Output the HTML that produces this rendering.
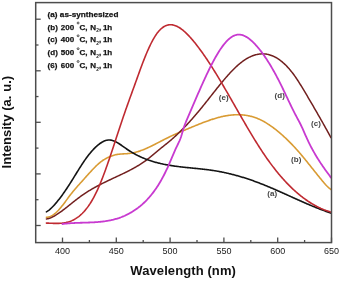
<!DOCTYPE html>
<html><head><meta charset="utf-8"><style>
html,body{margin:0;padding:0;background:#fff;width:342px;height:283px;overflow:hidden}
svg{display:block;font-family:"Liberation Sans",sans-serif;-webkit-font-smoothing:antialiased;will-change:transform}
</style></head><body><svg width="342" height="283" viewBox="0 0 342 283" font-family="Liberation Sans, sans-serif"><g><rect width="342" height="283" fill="#fff"/><path d="M46.40,217.30 L47.15,217.25 L47.90,217.14 L48.65,216.98 L49.40,216.75 L50.15,216.48 L50.90,216.15 L51.65,215.77 L52.40,215.33 L53.15,214.85 L53.90,214.33 L54.65,213.75 L55.40,213.14 L56.15,212.48 L56.90,211.78 L57.65,211.04 L58.40,210.26 L59.15,209.44 L59.90,208.59 L60.65,207.71 L61.40,206.80 L62.15,205.86 L62.90,204.90 L63.65,203.92 L64.40,202.92 L65.15,201.92 L65.90,200.90 L66.65,199.88 L67.40,198.86 L68.15,197.84 L68.90,196.83 L69.65,195.83 L70.40,194.85 L71.15,193.88 L71.90,192.93 L72.65,192.00 L73.40,191.08 L74.15,190.18 L74.90,189.29 L75.65,188.42 L76.40,187.55 L77.15,186.69 L77.90,185.84 L78.65,185.00 L79.40,184.16 L80.15,183.33 L80.90,182.50 L81.65,181.67 L82.40,180.84 L83.15,180.00 L83.90,179.17 L84.65,178.33 L85.40,177.49 L86.15,176.65 L86.90,175.82 L87.65,174.98 L88.40,174.15 L89.15,173.32 L89.90,172.49 L90.65,171.67 L91.40,170.86 L92.15,170.05 L92.90,169.26 L93.65,168.47 L94.40,167.70 L95.15,166.94 L95.90,166.19 L96.65,165.46 L97.40,164.75 L98.15,164.07 L98.90,163.41 L99.65,162.78 L100.40,162.17 L101.15,161.60 L101.90,161.05 L102.65,160.53 L103.40,160.04 L104.15,159.57 L104.90,159.12 L105.65,158.69 L106.40,158.29 L107.15,157.90 L107.90,157.53 L108.65,157.17 L109.40,156.83 L110.15,156.51 L110.90,156.20 L111.65,155.91 L112.40,155.64 L113.15,155.40 L113.90,155.17 L114.65,154.97 L115.40,154.80 L116.15,154.64 L116.90,154.50 L117.65,154.39 L118.40,154.28 L119.15,154.19 L119.90,154.12 L120.65,154.05 L121.40,153.99 L122.15,153.94 L122.90,153.90 L123.65,153.85 L124.40,153.81 L125.15,153.77 L125.90,153.73 L126.65,153.68 L127.40,153.62 L128.15,153.56 L128.90,153.49 L129.65,153.41 L130.40,153.32 L131.15,153.21 L131.90,153.08 L132.65,152.94 L133.40,152.79 L134.15,152.63 L134.90,152.45 L135.65,152.26 L136.40,152.06 L137.15,151.84 L137.90,151.62 L138.65,151.38 L139.40,151.14 L140.15,150.88 L140.90,150.61 L141.65,150.34 L142.40,150.05 L143.15,149.76 L143.90,149.45 L144.65,149.14 L145.40,148.83 L146.15,148.50 L146.90,148.17 L147.65,147.83 L148.40,147.49 L149.15,147.14 L149.90,146.78 L150.65,146.42 L151.40,146.06 L152.15,145.69 L152.90,145.32 L153.65,144.94 L154.40,144.56 L155.15,144.18 L155.90,143.80 L156.65,143.41 L157.40,143.03 L158.15,142.64 L158.90,142.25 L159.65,141.86 L160.40,141.47 L161.15,141.08 L161.90,140.70 L162.65,140.31 L163.40,139.92 L164.15,139.54 L164.90,139.16 L165.65,138.78 L166.40,138.41 L167.15,138.04 L167.90,137.67 L168.65,137.30 L169.40,136.94 L170.15,136.58 L170.90,136.23 L171.65,135.88 L172.40,135.53 L173.15,135.18 L173.90,134.83 L174.65,134.49 L175.40,134.15 L176.15,133.82 L176.90,133.48 L177.65,133.15 L178.40,132.82 L179.15,132.49 L179.90,132.16 L180.65,131.83 L181.40,131.51 L182.15,131.19 L182.90,130.87 L183.65,130.55 L184.40,130.23 L185.15,129.91 L185.90,129.60 L186.65,129.28 L187.40,128.97 L188.15,128.66 L188.90,128.35 L189.65,128.04 L190.40,127.73 L191.15,127.42 L191.90,127.11 L192.65,126.80 L193.40,126.49 L194.15,126.18 L194.90,125.87 L195.65,125.57 L196.40,125.26 L197.15,124.96 L197.90,124.65 L198.65,124.35 L199.40,124.05 L200.15,123.75 L200.90,123.46 L201.65,123.16 L202.40,122.87 L203.15,122.58 L203.90,122.30 L204.65,122.01 L205.40,121.73 L206.15,121.45 L206.90,121.18 L207.65,120.91 L208.40,120.64 L209.15,120.38 L209.90,120.12 L210.65,119.86 L211.40,119.61 L212.15,119.37 L212.90,119.12 L213.65,118.89 L214.40,118.65 L215.15,118.43 L215.90,118.20 L216.65,117.99 L217.40,117.78 L218.15,117.57 L218.90,117.37 L219.65,117.18 L220.40,116.99 L221.15,116.81 L221.90,116.63 L222.65,116.47 L223.40,116.31 L224.15,116.15 L224.90,116.00 L225.65,115.86 L226.40,115.73 L227.15,115.61 L227.90,115.49 L228.65,115.38 L229.40,115.28 L230.15,115.18 L230.90,115.10 L231.65,115.02 L232.40,114.95 L233.15,114.89 L233.90,114.84 L234.65,114.80 L235.40,114.77 L236.15,114.74 L236.90,114.73 L237.65,114.72 L238.40,114.73 L239.15,114.74 L239.90,114.76 L240.65,114.80 L241.40,114.84 L242.15,114.89 L242.90,114.96 L243.65,115.03 L244.40,115.12 L245.15,115.22 L245.90,115.33 L246.65,115.44 L247.40,115.57 L248.15,115.72 L248.90,115.87 L249.65,116.03 L250.40,116.21 L251.15,116.40 L251.90,116.60 L252.65,116.81 L253.40,117.04 L254.15,117.28 L254.90,117.53 L255.65,117.79 L256.40,118.07 L257.15,118.36 L257.90,118.66 L258.65,118.97 L259.40,119.30 L260.15,119.65 L260.90,120.00 L261.65,120.37 L262.40,120.76 L263.15,121.16 L263.90,121.57 L264.65,121.99 L265.40,122.43 L266.15,122.88 L266.90,123.34 L267.65,123.81 L268.40,124.30 L269.15,124.79 L269.90,125.30 L270.65,125.82 L271.40,126.35 L272.15,126.89 L272.90,127.44 L273.65,128.00 L274.40,128.57 L275.15,129.15 L275.90,129.73 L276.65,130.33 L277.40,130.94 L278.15,131.55 L278.90,132.18 L279.65,132.81 L280.40,133.45 L281.15,134.10 L281.90,134.76 L282.65,135.43 L283.40,136.10 L284.15,136.79 L284.90,137.48 L285.65,138.19 L286.40,138.90 L287.15,139.62 L287.90,140.34 L288.65,141.08 L289.40,141.83 L290.15,142.58 L290.90,143.35 L291.65,144.12 L292.40,144.90 L293.15,145.69 L293.90,146.49 L294.65,147.30 L295.40,148.12 L296.15,148.94 L296.90,149.78 L297.65,150.62 L298.40,151.48 L299.15,152.34 L299.90,153.21 L300.65,154.09 L301.40,154.97 L302.15,155.86 L302.90,156.76 L303.65,157.67 L304.40,158.58 L305.15,159.49 L305.90,160.41 L306.65,161.34 L307.40,162.26 L308.15,163.20 L308.90,164.13 L309.65,165.07 L310.40,166.01 L311.15,166.95 L311.90,167.89 L312.65,168.83 L313.40,169.77 L314.15,170.71 L314.90,171.65 L315.65,172.59 L316.40,173.53 L317.15,174.47 L317.90,175.40 L318.65,176.33 L319.40,177.26 L320.15,178.18 L320.90,179.10 L321.65,180.02 L322.40,180.93 L323.15,181.83 L323.90,182.71 L324.65,183.57 L325.40,184.42 L326.15,185.23 L326.90,186.01 L327.65,186.75 L328.40,187.46 L329.15,188.11 L329.90,188.72 L330.65,189.27 L331.00,189.51" fill="none" stroke="#d99b33" stroke-width="1.6" stroke-linejoin="round" stroke-linecap="round"/><path d="M46.40,218.91 L47.15,218.80 L47.90,218.65 L48.65,218.46 L49.40,218.24 L50.15,217.99 L50.90,217.70 L51.65,217.39 L52.40,217.04 L53.15,216.67 L53.90,216.28 L54.65,215.86 L55.40,215.42 L56.15,214.96 L56.90,214.48 L57.65,213.99 L58.40,213.48 L59.15,212.96 L59.90,212.43 L60.65,211.89 L61.40,211.34 L62.15,210.78 L62.90,210.22 L63.65,209.65 L64.40,209.07 L65.15,208.49 L65.90,207.90 L66.65,207.31 L67.40,206.72 L68.15,206.12 L68.90,205.52 L69.65,204.92 L70.40,204.32 L71.15,203.72 L71.90,203.12 L72.65,202.52 L73.40,201.93 L74.15,201.33 L74.90,200.74 L75.65,200.15 L76.40,199.57 L77.15,198.99 L77.90,198.42 L78.65,197.85 L79.40,197.29 L80.15,196.74 L80.90,196.19 L81.65,195.66 L82.40,195.13 L83.15,194.61 L83.90,194.10 L84.65,193.59 L85.40,193.10 L86.15,192.61 L86.90,192.13 L87.65,191.65 L88.40,191.18 L89.15,190.72 L89.90,190.27 L90.65,189.82 L91.40,189.37 L92.15,188.94 L92.90,188.50 L93.65,188.08 L94.40,187.66 L95.15,187.24 L95.90,186.83 L96.65,186.42 L97.40,186.02 L98.15,185.63 L98.90,185.23 L99.65,184.84 L100.40,184.46 L101.15,184.07 L101.90,183.70 L102.65,183.32 L103.40,182.95 L104.15,182.58 L104.90,182.21 L105.65,181.85 L106.40,181.48 L107.15,181.12 L107.90,180.77 L108.65,180.41 L109.40,180.05 L110.15,179.70 L110.90,179.35 L111.65,178.99 L112.40,178.64 L113.15,178.29 L113.90,177.94 L114.65,177.59 L115.40,177.24 L116.15,176.89 L116.90,176.54 L117.65,176.19 L118.40,175.84 L119.15,175.48 L119.90,175.13 L120.65,174.77 L121.40,174.41 L122.15,174.06 L122.90,173.69 L123.65,173.33 L124.40,172.97 L125.15,172.60 L125.90,172.23 L126.65,171.85 L127.40,171.48 L128.15,171.10 L128.90,170.72 L129.65,170.33 L130.40,169.94 L131.15,169.54 L131.90,169.15 L132.65,168.74 L133.40,168.33 L134.15,167.92 L134.90,167.50 L135.65,167.08 L136.40,166.65 L137.15,166.21 L137.90,165.77 L138.65,165.31 L139.40,164.85 L140.15,164.39 L140.90,163.91 L141.65,163.43 L142.40,162.93 L143.15,162.43 L143.90,161.91 L144.65,161.39 L145.40,160.86 L146.15,160.31 L146.90,159.75 L147.65,159.18 L148.40,158.60 L149.15,158.01 L149.90,157.40 L150.65,156.79 L151.40,156.16 L152.15,155.53 L152.90,154.90 L153.65,154.26 L154.40,153.62 L155.15,152.98 L155.90,152.34 L156.65,151.70 L157.40,151.08 L158.15,150.45 L158.90,149.84 L159.65,149.23 L160.40,148.62 L161.15,148.02 L161.90,147.42 L162.65,146.82 L163.40,146.22 L164.15,145.63 L164.90,145.03 L165.65,144.43 L166.40,143.83 L167.15,143.22 L167.90,142.61 L168.65,142.00 L169.40,141.37 L170.15,140.74 L170.90,140.10 L171.65,139.46 L172.40,138.80 L173.15,138.14 L173.90,137.47 L174.65,136.79 L175.40,136.11 L176.15,135.41 L176.90,134.71 L177.65,134.00 L178.40,133.28 L179.15,132.56 L179.90,131.83 L180.65,131.09 L181.40,130.34 L182.15,129.59 L182.90,128.83 L183.65,128.06 L184.40,127.29 L185.15,126.51 L185.90,125.72 L186.65,124.92 L187.40,124.12 L188.15,123.31 L188.90,122.50 L189.65,121.67 L190.40,120.84 L191.15,120.01 L191.90,119.17 L192.65,118.32 L193.40,117.46 L194.15,116.60 L194.90,115.73 L195.65,114.86 L196.40,113.98 L197.15,113.10 L197.90,112.20 L198.65,111.31 L199.40,110.40 L200.15,109.49 L200.90,108.58 L201.65,107.66 L202.40,106.73 L203.15,105.80 L203.90,104.87 L204.65,103.93 L205.40,102.99 L206.15,102.05 L206.90,101.10 L207.65,100.16 L208.40,99.21 L209.15,98.26 L209.90,97.31 L210.65,96.35 L211.40,95.40 L212.15,94.45 L212.90,93.50 L213.65,92.55 L214.40,91.60 L215.15,90.66 L215.90,89.72 L216.65,88.78 L217.40,87.84 L218.15,86.91 L218.90,85.98 L219.65,85.05 L220.40,84.14 L221.15,83.22 L221.90,82.31 L222.65,81.41 L223.40,80.52 L224.15,79.63 L224.90,78.75 L225.65,77.87 L226.40,77.01 L227.15,76.16 L227.90,75.31 L228.65,74.48 L229.40,73.65 L230.15,72.84 L230.90,72.04 L231.65,71.25 L232.40,70.47 L233.15,69.71 L233.90,68.95 L234.65,68.22 L235.40,67.50 L236.15,66.79 L236.90,66.10 L237.65,65.42 L238.40,64.76 L239.15,64.12 L239.90,63.50 L240.65,62.89 L241.40,62.30 L242.15,61.73 L242.90,61.18 L243.65,60.65 L244.40,60.14 L245.15,59.64 L245.90,59.17 L246.65,58.71 L247.40,58.27 L248.15,57.86 L248.90,57.46 L249.65,57.08 L250.40,56.73 L251.15,56.39 L251.90,56.07 L252.65,55.78 L253.40,55.50 L254.15,55.25 L254.90,55.01 L255.65,54.80 L256.40,54.61 L257.15,54.44 L257.90,54.29 L258.65,54.16 L259.40,54.05 L260.15,53.97 L260.90,53.91 L261.65,53.87 L262.40,53.85 L263.15,53.86 L263.90,53.89 L264.65,53.94 L265.40,54.01 L266.15,54.11 L266.90,54.23 L267.65,54.37 L268.40,54.54 L269.15,54.73 L269.90,54.94 L270.65,55.18 L271.40,55.44 L272.15,55.73 L272.90,56.04 L273.65,56.37 L274.40,56.73 L275.15,57.11 L275.90,57.52 L276.65,57.95 L277.40,58.41 L278.15,58.89 L278.90,59.40 L279.65,59.93 L280.40,60.49 L281.15,61.07 L281.90,61.67 L282.65,62.31 L283.40,62.96 L284.15,63.64 L284.90,64.35 L285.65,65.08 L286.40,65.84 L287.15,66.62 L287.90,67.43 L288.65,68.27 L289.40,69.12 L290.15,70.01 L290.90,70.92 L291.65,71.86 L292.40,72.82 L293.15,73.81 L293.90,74.82 L294.65,75.86 L295.40,76.93 L296.15,78.02 L296.90,79.13 L297.65,80.26 L298.40,81.42 L299.15,82.59 L299.90,83.78 L300.65,84.98 L301.40,86.20 L302.15,87.42 L302.90,88.66 L303.65,89.91 L304.40,91.17 L305.15,92.43 L305.90,93.70 L306.65,94.97 L307.40,96.24 L308.15,97.52 L308.90,98.79 L309.65,100.07 L310.40,101.35 L311.15,102.63 L311.90,103.91 L312.65,105.20 L313.40,106.48 L314.15,107.78 L314.90,109.07 L315.65,110.36 L316.40,111.66 L317.15,112.97 L317.90,114.27 L318.65,115.58 L319.40,116.89 L320.15,118.21 L320.90,119.52 L321.65,120.85 L322.40,122.17 L323.15,123.50 L323.90,124.84 L324.65,126.18 L325.40,127.52 L326.15,128.87 L326.90,130.22 L327.65,131.57 L328.40,132.94 L329.15,134.30 L329.90,135.67 L330.65,137.05 L331.00,137.69" fill="none" stroke="#72201f" stroke-width="1.5" stroke-linejoin="round" stroke-linecap="round"/><path d="M46.40,211.91 L47.15,211.44 L47.90,210.93 L48.65,210.37 L49.40,209.77 L50.15,209.14 L50.90,208.47 L51.65,207.76 L52.40,207.02 L53.15,206.25 L53.90,205.45 L54.65,204.62 L55.40,203.76 L56.15,202.88 L56.90,201.98 L57.65,201.06 L58.40,200.12 L59.15,199.16 L59.90,198.18 L60.65,197.19 L61.40,196.18 L62.15,195.16 L62.90,194.12 L63.65,193.06 L64.40,191.99 L65.15,190.91 L65.90,189.81 L66.65,188.69 L67.40,187.56 L68.15,186.41 L68.90,185.26 L69.65,184.09 L70.40,182.91 L71.15,181.72 L71.90,180.52 L72.65,179.32 L73.40,178.11 L74.15,176.90 L74.90,175.68 L75.65,174.46 L76.40,173.25 L77.15,172.03 L77.90,170.82 L78.65,169.62 L79.40,168.43 L80.15,167.24 L80.90,166.07 L81.65,164.91 L82.40,163.76 L83.15,162.63 L83.90,161.51 L84.65,160.42 L85.40,159.35 L86.15,158.30 L86.90,157.27 L87.65,156.27 L88.40,155.29 L89.15,154.34 L89.90,153.41 L90.65,152.51 L91.40,151.63 L92.15,150.78 L92.90,149.96 L93.65,149.16 L94.40,148.38 L95.15,147.64 L95.90,146.92 L96.65,146.22 L97.40,145.56 L98.15,144.92 L98.90,144.32 L99.65,143.75 L100.40,143.21 L101.15,142.71 L101.90,142.25 L102.65,141.82 L103.40,141.44 L104.15,141.10 L104.90,140.80 L105.65,140.54 L106.40,140.34 L107.15,140.18 L107.90,140.06 L108.65,140.00 L109.40,140.00 L110.15,140.04 L110.90,140.14 L111.65,140.28 L112.40,140.47 L113.15,140.70 L113.90,140.98 L114.65,141.29 L115.40,141.63 L116.15,142.01 L116.90,142.41 L117.65,142.84 L118.40,143.30 L119.15,143.77 L119.90,144.26 L120.65,144.77 L121.40,145.28 L122.15,145.81 L122.90,146.34 L123.65,146.88 L124.40,147.41 L125.15,147.94 L125.90,148.47 L126.65,148.99 L127.40,149.50 L128.15,150.00 L128.90,150.49 L129.65,150.97 L130.40,151.43 L131.15,151.89 L131.90,152.34 L132.65,152.78 L133.40,153.21 L134.15,153.63 L134.90,154.04 L135.65,154.45 L136.40,154.84 L137.15,155.23 L137.90,155.60 L138.65,155.97 L139.40,156.33 L140.15,156.68 L140.90,157.02 L141.65,157.36 L142.40,157.69 L143.15,158.01 L143.90,158.32 L144.65,158.62 L145.40,158.92 L146.15,159.21 L146.90,159.49 L147.65,159.77 L148.40,160.03 L149.15,160.30 L149.90,160.55 L150.65,160.80 L151.40,161.04 L152.15,161.28 L152.90,161.51 L153.65,161.73 L154.40,161.95 L155.15,162.16 L155.90,162.37 L156.65,162.57 L157.40,162.77 L158.15,162.96 L158.90,163.15 L159.65,163.33 L160.40,163.50 L161.15,163.67 L161.90,163.84 L162.65,164.00 L163.40,164.16 L164.15,164.32 L164.90,164.46 L165.65,164.61 L166.40,164.75 L167.15,164.89 L167.90,165.02 L168.65,165.16 L169.40,165.28 L170.15,165.41 L170.90,165.53 L171.65,165.65 L172.40,165.76 L173.15,165.87 L173.90,165.98 L174.65,166.09 L175.40,166.19 L176.15,166.29 L176.90,166.39 L177.65,166.49 L178.40,166.58 L179.15,166.68 L179.90,166.77 L180.65,166.85 L181.40,166.94 L182.15,167.03 L182.90,167.11 L183.65,167.19 L184.40,167.27 L185.15,167.35 L185.90,167.43 L186.65,167.51 L187.40,167.59 L188.15,167.66 L188.90,167.74 L189.65,167.81 L190.40,167.89 L191.15,167.96 L191.90,168.04 L192.65,168.11 L193.40,168.19 L194.15,168.26 L194.90,168.33 L195.65,168.41 L196.40,168.48 L197.15,168.56 L197.90,168.63 L198.65,168.71 L199.40,168.79 L200.15,168.87 L200.90,168.95 L201.65,169.03 L202.40,169.11 L203.15,169.19 L203.90,169.28 L204.65,169.37 L205.40,169.45 L206.15,169.54 L206.90,169.64 L207.65,169.73 L208.40,169.83 L209.15,169.93 L209.90,170.03 L210.65,170.13 L211.40,170.24 L212.15,170.35 L212.90,170.46 L213.65,170.57 L214.40,170.69 L215.15,170.81 L215.90,170.93 L216.65,171.06 L217.40,171.19 L218.15,171.32 L218.90,171.46 L219.65,171.60 L220.40,171.74 L221.15,171.88 L221.90,172.03 L222.65,172.18 L223.40,172.34 L224.15,172.50 L224.90,172.66 L225.65,172.82 L226.40,172.99 L227.15,173.16 L227.90,173.33 L228.65,173.50 L229.40,173.68 L230.15,173.86 L230.90,174.05 L231.65,174.23 L232.40,174.42 L233.15,174.62 L233.90,174.81 L234.65,175.01 L235.40,175.21 L236.15,175.42 L236.90,175.62 L237.65,175.83 L238.40,176.05 L239.15,176.26 L239.90,176.48 L240.65,176.70 L241.40,176.92 L242.15,177.15 L242.90,177.38 L243.65,177.61 L244.40,177.85 L245.15,178.08 L245.90,178.32 L246.65,178.57 L247.40,178.81 L248.15,179.06 L248.90,179.31 L249.65,179.56 L250.40,179.82 L251.15,180.08 L251.90,180.34 L252.65,180.60 L253.40,180.87 L254.15,181.14 L254.90,181.41 L255.65,181.68 L256.40,181.96 L257.15,182.24 L257.90,182.52 L258.65,182.80 L259.40,183.09 L260.15,183.38 L260.90,183.67 L261.65,183.96 L262.40,184.26 L263.15,184.56 L263.90,184.86 L264.65,185.16 L265.40,185.46 L266.15,185.77 L266.90,186.08 L267.65,186.39 L268.40,186.70 L269.15,187.02 L269.90,187.33 L270.65,187.65 L271.40,187.97 L272.15,188.29 L272.90,188.61 L273.65,188.94 L274.40,189.26 L275.15,189.59 L275.90,189.92 L276.65,190.24 L277.40,190.57 L278.15,190.91 L278.90,191.24 L279.65,191.57 L280.40,191.90 L281.15,192.24 L281.90,192.57 L282.65,192.91 L283.40,193.25 L284.15,193.58 L284.90,193.92 L285.65,194.26 L286.40,194.60 L287.15,194.94 L287.90,195.28 L288.65,195.61 L289.40,195.95 L290.15,196.29 L290.90,196.63 L291.65,196.97 L292.40,197.31 L293.15,197.65 L293.90,197.99 L294.65,198.33 L295.40,198.66 L296.15,199.00 L296.90,199.34 L297.65,199.67 L298.40,200.01 L299.15,200.35 L299.90,200.68 L300.65,201.01 L301.40,201.34 L302.15,201.68 L302.90,202.01 L303.65,202.34 L304.40,202.66 L305.15,202.99 L305.90,203.32 L306.65,203.64 L307.40,203.96 L308.15,204.29 L308.90,204.61 L309.65,204.92 L310.40,205.24 L311.15,205.56 L311.90,205.87 L312.65,206.18 L313.40,206.49 L314.15,206.80 L314.90,207.11 L315.65,207.41 L316.40,207.71 L317.15,208.01 L317.90,208.31 L318.65,208.60 L319.40,208.89 L320.15,209.18 L320.90,209.47 L321.65,209.76 L322.40,210.04 L323.15,210.32 L323.90,210.59 L324.65,210.87 L325.40,211.14 L326.15,211.41 L326.90,211.67 L327.65,211.93 L328.40,212.19 L329.15,212.45 L329.90,212.70 L330.65,212.95 L331.20,213.13" fill="none" stroke="#141414" stroke-width="1.6" stroke-linejoin="round" stroke-linecap="round"/><path d="M46.40,223.09 L47.15,223.11 L47.90,223.14 L48.65,223.17 L49.40,223.20 L50.15,223.23 L50.90,223.26 L51.65,223.29 L52.40,223.32 L53.15,223.34 L53.90,223.36 L54.65,223.38 L55.40,223.39 L56.15,223.40 L56.90,223.39 L57.65,223.38 L58.40,223.37 L59.15,223.34 L59.90,223.30 L60.65,223.25 L61.40,223.19 L62.15,223.12 L62.90,223.03 L63.65,222.93 L64.40,222.81 L65.15,222.68 L65.90,222.53 L66.65,222.36 L67.40,222.18 L68.15,221.97 L68.90,221.75 L69.65,221.50 L70.40,221.23 L71.15,220.94 L71.90,220.63 L72.65,220.29 L73.40,219.93 L74.15,219.54 L74.90,219.12 L75.65,218.68 L76.40,218.20 L77.15,217.70 L77.90,217.17 L78.65,216.61 L79.40,216.01 L80.15,215.38 L80.90,214.72 L81.65,214.03 L82.40,213.30 L83.15,212.53 L83.90,211.73 L84.65,210.89 L85.40,210.01 L86.15,209.09 L86.90,208.13 L87.65,207.14 L88.40,206.09 L89.15,205.01 L89.90,203.89 L90.65,202.71 L91.40,201.50 L92.15,200.24 L92.90,198.93 L93.65,197.57 L94.40,196.17 L95.15,194.71 L95.90,193.21 L96.65,191.66 L97.40,190.05 L98.15,188.39 L98.90,186.69 L99.65,184.93 L100.40,183.13 L101.15,181.28 L101.90,179.40 L102.65,177.47 L103.40,175.51 L104.15,173.51 L104.90,171.47 L105.65,169.41 L106.40,167.31 L107.15,165.19 L107.90,163.05 L108.65,160.88 L109.40,158.69 L110.15,156.48 L110.90,154.25 L111.65,152.01 L112.40,149.75 L113.15,147.49 L113.90,145.22 L114.65,142.94 L115.40,140.65 L116.15,138.37 L116.90,136.08 L117.65,133.79 L118.40,131.51 L119.15,129.24 L119.90,126.97 L120.65,124.71 L121.40,122.46 L122.15,120.23 L122.90,118.02 L123.65,115.82 L124.40,113.64 L125.15,111.49 L125.90,109.35 L126.65,107.22 L127.40,105.11 L128.15,103.01 L128.90,100.92 L129.65,98.84 L130.40,96.77 L131.15,94.70 L131.90,92.64 L132.65,90.58 L133.40,88.51 L134.15,86.45 L134.90,84.38 L135.65,82.30 L136.40,80.22 L137.15,78.13 L137.90,76.03 L138.65,73.94 L139.40,71.86 L140.15,69.80 L140.90,67.76 L141.65,65.74 L142.40,63.75 L143.15,61.79 L143.90,59.86 L144.65,57.97 L145.40,56.11 L146.15,54.29 L146.90,52.50 L147.65,50.76 L148.40,49.06 L149.15,47.41 L149.90,45.81 L150.65,44.25 L151.40,42.75 L152.15,41.30 L152.90,39.91 L153.65,38.57 L154.40,37.30 L155.15,36.09 L155.90,34.94 L156.65,33.86 L157.40,32.85 L158.15,31.90 L158.90,31.02 L159.65,30.20 L160.40,29.44 L161.15,28.75 L161.90,28.11 L162.65,27.53 L163.40,27.01 L164.15,26.55 L164.90,26.14 L165.65,25.79 L166.40,25.49 L167.15,25.25 L167.90,25.05 L168.65,24.91 L169.40,24.81 L170.15,24.77 L170.90,24.76 L171.65,24.81 L172.40,24.90 L173.15,25.03 L173.90,25.21 L174.65,25.42 L175.40,25.68 L176.15,25.98 L176.90,26.31 L177.65,26.68 L178.40,27.09 L179.15,27.53 L179.90,28.00 L180.65,28.51 L181.40,29.05 L182.15,29.61 L182.90,30.21 L183.65,30.84 L184.40,31.49 L185.15,32.17 L185.90,32.87 L186.65,33.60 L187.40,34.34 L188.15,35.11 L188.90,35.90 L189.65,36.71 L190.40,37.54 L191.15,38.38 L191.90,39.24 L192.65,40.12 L193.40,41.01 L194.15,41.91 L194.90,42.83 L195.65,43.77 L196.40,44.72 L197.15,45.68 L197.90,46.65 L198.65,47.64 L199.40,48.65 L200.15,49.66 L200.90,50.69 L201.65,51.73 L202.40,52.78 L203.15,53.84 L203.90,54.92 L204.65,56.00 L205.40,57.10 L206.15,58.21 L206.90,59.32 L207.65,60.45 L208.40,61.59 L209.15,62.74 L209.90,63.89 L210.65,65.06 L211.40,66.23 L212.15,67.41 L212.90,68.60 L213.65,69.80 L214.40,71.01 L215.15,72.22 L215.90,73.44 L216.65,74.67 L217.40,75.90 L218.15,77.14 L218.90,78.39 L219.65,79.64 L220.40,80.90 L221.15,82.16 L221.90,83.43 L222.65,84.70 L223.40,85.98 L224.15,87.26 L224.90,88.55 L225.65,89.84 L226.40,91.13 L227.15,92.42 L227.90,93.72 L228.65,95.02 L229.40,96.32 L230.15,97.63 L230.90,98.93 L231.65,100.24 L232.40,101.55 L233.15,102.86 L233.90,104.17 L234.65,105.48 L235.40,106.79 L236.15,108.11 L236.90,109.42 L237.65,110.73 L238.40,112.04 L239.15,113.34 L239.90,114.65 L240.65,115.95 L241.40,117.26 L242.15,118.56 L242.90,119.86 L243.65,121.15 L244.40,122.44 L245.15,123.73 L245.90,125.02 L246.65,126.30 L247.40,127.57 L248.15,128.85 L248.90,130.11 L249.65,131.38 L250.40,132.63 L251.15,133.88 L251.90,135.13 L252.65,136.37 L253.40,137.60 L254.15,138.83 L254.90,140.05 L255.65,141.26 L256.40,142.47 L257.15,143.67 L257.90,144.86 L258.65,146.04 L259.40,147.21 L260.15,148.38 L260.90,149.53 L261.65,150.68 L262.40,151.82 L263.15,152.95 L263.90,154.06 L264.65,155.17 L265.40,156.27 L266.15,157.35 L266.90,158.42 L267.65,159.49 L268.40,160.54 L269.15,161.58 L269.90,162.61 L270.65,163.63 L271.40,164.64 L272.15,165.64 L272.90,166.63 L273.65,167.60 L274.40,168.57 L275.15,169.53 L275.90,170.47 L276.65,171.40 L277.40,172.33 L278.15,173.24 L278.90,174.14 L279.65,175.03 L280.40,175.92 L281.15,176.79 L281.90,177.65 L282.65,178.50 L283.40,179.33 L284.15,180.16 L284.90,180.98 L285.65,181.79 L286.40,182.59 L287.15,183.37 L287.90,184.15 L288.65,184.92 L289.40,185.67 L290.15,186.42 L290.90,187.15 L291.65,187.88 L292.40,188.59 L293.15,189.30 L293.90,189.99 L294.65,190.68 L295.40,191.35 L296.15,192.02 L296.90,192.67 L297.65,193.31 L298.40,193.95 L299.15,194.57 L299.90,195.19 L300.65,195.79 L301.40,196.38 L302.15,196.97 L302.90,197.54 L303.65,198.11 L304.40,198.66 L305.15,199.21 L305.90,199.74 L306.65,200.27 L307.40,200.78 L308.15,201.29 L308.90,201.78 L309.65,202.27 L310.40,202.75 L311.15,203.21 L311.90,203.67 L312.65,204.12 L313.40,204.55 L314.15,204.98 L314.90,205.40 L315.65,205.81 L316.40,206.21 L317.15,206.60 L317.90,206.98 L318.65,207.35 L319.40,207.71 L320.15,208.06 L320.90,208.41 L321.65,208.74 L322.40,209.07 L323.15,209.38 L323.90,209.69 L324.65,209.98 L325.40,210.27 L326.15,210.55 L326.90,210.81 L327.65,211.07 L328.40,211.32 L329.15,211.56 L329.90,211.80 L330.65,212.02 L331.20,212.18" fill="none" stroke="#bf2a31" stroke-width="1.6" stroke-linejoin="round" stroke-linecap="round"/><path d="M62.50,224.01 L63.25,223.91 L64.00,223.82 L64.75,223.73 L65.50,223.65 L66.25,223.58 L67.00,223.50 L67.75,223.44 L68.50,223.37 L69.25,223.31 L70.00,223.26 L70.75,223.21 L71.50,223.16 L72.25,223.11 L73.00,223.07 L73.75,223.03 L74.50,223.00 L75.25,222.96 L76.00,222.93 L76.75,222.90 L77.50,222.87 L78.25,222.85 L79.00,222.82 L79.75,222.80 L80.50,222.77 L81.25,222.75 L82.00,222.73 L82.75,222.71 L83.50,222.69 L84.25,222.67 L85.00,222.64 L85.75,222.62 L86.50,222.60 L87.25,222.58 L88.00,222.55 L88.75,222.52 L89.50,222.50 L90.25,222.47 L91.00,222.44 L91.75,222.40 L92.50,222.37 L93.25,222.33 L94.00,222.29 L94.75,222.24 L95.50,222.20 L96.25,222.15 L97.00,222.09 L97.75,222.04 L98.50,221.97 L99.25,221.91 L100.00,221.84 L100.75,221.76 L101.50,221.68 L102.25,221.60 L103.00,221.51 L103.75,221.41 L104.50,221.31 L105.25,221.21 L106.00,221.09 L106.75,220.97 L107.50,220.85 L108.25,220.72 L109.00,220.58 L109.75,220.43 L110.50,220.28 L111.25,220.12 L112.00,219.95 L112.75,219.77 L113.50,219.59 L114.25,219.40 L115.00,219.20 L115.75,218.99 L116.50,218.77 L117.25,218.54 L118.00,218.30 L118.75,218.06 L119.50,217.80 L120.25,217.53 L121.00,217.26 L121.75,216.97 L122.50,216.67 L123.25,216.36 L124.00,216.05 L124.75,215.72 L125.50,215.37 L126.25,215.02 L127.00,214.66 L127.75,214.28 L128.50,213.89 L129.25,213.49 L130.00,213.07 L130.75,212.65 L131.50,212.21 L132.25,211.75 L133.00,211.29 L133.75,210.81 L134.50,210.31 L135.25,209.80 L136.00,209.28 L136.75,208.74 L137.50,208.19 L138.25,207.63 L139.00,207.04 L139.75,206.45 L140.50,205.83 L141.25,205.20 L142.00,204.56 L142.75,203.89 L143.50,203.21 L144.25,202.51 L145.00,201.79 L145.75,201.05 L146.50,200.29 L147.25,199.50 L148.00,198.70 L148.75,197.87 L149.50,197.02 L150.25,196.14 L151.00,195.24 L151.75,194.31 L152.50,193.36 L153.25,192.38 L154.00,191.37 L154.75,190.33 L155.50,189.27 L156.25,188.17 L157.00,187.05 L157.75,185.89 L158.50,184.71 L159.25,183.49 L160.00,182.24 L160.75,180.95 L161.50,179.63 L162.25,178.28 L163.00,176.89 L163.75,175.46 L164.50,174.00 L165.25,172.50 L166.00,170.96 L166.75,169.38 L167.50,167.77 L168.25,166.11 L169.00,164.41 L169.75,162.68 L170.50,160.93 L171.25,159.15 L172.00,157.38 L172.75,155.60 L173.50,153.84 L174.25,152.10 L175.00,150.39 L175.75,148.72 L176.50,147.10 L177.25,145.54 L178.00,144.02 L178.75,142.47 L179.50,140.82 L180.25,139.01 L181.00,136.95 L181.75,134.59 L182.50,131.91 L183.25,129.28 L184.00,126.95 L184.75,124.88 L185.50,122.99 L186.25,121.20 L187.00,119.45 L187.75,117.69 L188.50,115.94 L189.25,114.18 L190.00,112.42 L190.75,110.66 L191.50,108.90 L192.25,107.15 L193.00,105.39 L193.75,103.64 L194.50,101.89 L195.25,100.15 L196.00,98.41 L196.75,96.68 L197.50,94.95 L198.25,93.23 L199.00,91.52 L199.75,89.81 L200.50,88.12 L201.25,86.43 L202.00,84.75 L202.75,83.09 L203.50,81.43 L204.25,79.79 L205.00,78.16 L205.75,76.55 L206.50,74.95 L207.25,73.36 L208.00,71.79 L208.75,70.24 L209.50,68.71 L210.25,67.20 L211.00,65.71 L211.75,64.24 L212.50,62.80 L213.25,61.38 L214.00,59.99 L214.75,58.62 L215.50,57.28 L216.25,55.97 L217.00,54.69 L217.75,53.44 L218.50,52.22 L219.25,51.04 L220.00,49.88 L220.75,48.77 L221.50,47.68 L222.25,46.64 L223.00,45.63 L223.75,44.66 L224.50,43.72 L225.25,42.83 L226.00,41.98 L226.75,41.17 L227.50,40.40 L228.25,39.68 L229.00,39.00 L229.75,38.36 L230.50,37.77 L231.25,37.23 L232.00,36.74 L232.75,36.29 L233.50,35.90 L234.25,35.56 L235.00,35.26 L235.75,35.02 L236.50,34.84 L237.25,34.71 L238.00,34.63 L238.75,34.60 L239.50,34.62 L240.25,34.69 L241.00,34.81 L241.75,34.97 L242.50,35.18 L243.25,35.43 L244.00,35.73 L244.75,36.06 L245.50,36.44 L246.25,36.86 L247.00,37.31 L247.75,37.80 L248.50,38.33 L249.25,38.89 L250.00,39.48 L250.75,40.11 L251.50,40.77 L252.25,41.45 L253.00,42.17 L253.75,42.91 L254.50,43.68 L255.25,44.47 L256.00,45.29 L256.75,46.12 L257.50,46.99 L258.25,47.87 L259.00,48.78 L259.75,49.72 L260.50,50.67 L261.25,51.65 L262.00,52.65 L262.75,53.67 L263.50,54.72 L264.25,55.78 L265.00,56.87 L265.75,57.98 L266.50,59.11 L267.25,60.26 L268.00,61.43 L268.75,62.63 L269.50,63.84 L270.25,65.07 L271.00,66.33 L271.75,67.60 L272.50,68.90 L273.25,70.21 L274.00,71.54 L274.75,72.90 L275.50,74.27 L276.25,75.66 L277.00,77.07 L277.75,78.49 L278.50,79.94 L279.25,81.40 L280.00,82.89 L280.75,84.39 L281.50,85.90 L282.25,87.44 L283.00,88.99 L283.75,90.55 L284.50,92.12 L285.25,93.69 L286.00,95.28 L286.75,96.86 L287.50,98.45 L288.25,100.03 L289.00,101.61 L289.75,103.18 L290.50,104.75 L291.25,106.30 L292.00,107.84 L292.75,109.36 L293.50,110.87 L294.25,112.35 L295.00,113.81 L295.75,115.25 L296.50,116.66 L297.25,118.06 L298.00,119.46 L298.75,120.87 L299.50,122.29 L300.25,123.75 L301.00,125.24 L301.75,126.79 L302.50,128.41 L303.25,130.09 L304.00,131.83 L304.75,133.57 L305.50,135.30 L306.25,136.99 L307.00,138.63 L307.75,140.24 L308.50,141.81 L309.25,143.34 L310.00,144.84 L310.75,146.31 L311.50,147.74 L312.25,149.15 L313.00,150.52 L313.75,151.86 L314.50,153.18 L315.25,154.47 L316.00,155.74 L316.75,156.98 L317.50,158.20 L318.25,159.39 L319.00,160.57 L319.75,161.73 L320.50,162.87 L321.25,163.99 L322.00,165.10 L322.75,166.19 L323.50,167.27 L324.25,168.34 L325.00,169.40 L325.75,170.44 L326.50,171.48 L327.25,172.52 L328.00,173.54 L328.75,174.56 L329.50,175.58 L330.25,176.60 L331.00,177.61" fill="none" stroke="#c83ad0" stroke-width="1.8" stroke-linejoin="round" stroke-linecap="round"/><rect x="35.7" y="2.6" width="295.8" height="240.0" fill="none" stroke="#4d4d4d" stroke-width="1.5"/><line x1="35.7" y1="19.2" x2="40.7" y2="19.2" stroke="#4d4d4d" stroke-width="1.3"/><line x1="35.7" y1="45.0" x2="38.5" y2="45.0" stroke="#4d4d4d" stroke-width="1.3"/><line x1="35.7" y1="70.8" x2="40.7" y2="70.8" stroke="#4d4d4d" stroke-width="1.3"/><line x1="35.7" y1="96.55" x2="38.5" y2="96.55" stroke="#4d4d4d" stroke-width="1.3"/><line x1="35.7" y1="122.3" x2="40.7" y2="122.3" stroke="#4d4d4d" stroke-width="1.3"/><line x1="35.7" y1="148.1" x2="38.5" y2="148.1" stroke="#4d4d4d" stroke-width="1.3"/><line x1="35.7" y1="173.9" x2="40.7" y2="173.9" stroke="#4d4d4d" stroke-width="1.3"/><line x1="35.7" y1="199.7" x2="38.5" y2="199.7" stroke="#4d4d4d" stroke-width="1.3"/><line x1="35.7" y1="225.5" x2="40.7" y2="225.5" stroke="#4d4d4d" stroke-width="1.3"/><line x1="62.5" y1="242.6" x2="62.5" y2="237.6" stroke="#4d4d4d" stroke-width="1.3"/><text x="62.5" y="254.0" text-anchor="middle" font-size="9" fill="#1a1a1a">400</text><line x1="116.3" y1="242.6" x2="116.3" y2="237.6" stroke="#4d4d4d" stroke-width="1.3"/><text x="116.3" y="254.0" text-anchor="middle" font-size="9" fill="#1a1a1a">450</text><line x1="170.1" y1="242.6" x2="170.1" y2="237.6" stroke="#4d4d4d" stroke-width="1.3"/><text x="170.1" y="254.0" text-anchor="middle" font-size="9" fill="#1a1a1a">500</text><line x1="223.9" y1="242.6" x2="223.9" y2="237.6" stroke="#4d4d4d" stroke-width="1.3"/><text x="223.9" y="254.0" text-anchor="middle" font-size="9" fill="#1a1a1a">550</text><line x1="277.7" y1="242.6" x2="277.7" y2="237.6" stroke="#4d4d4d" stroke-width="1.3"/><text x="277.7" y="254.0" text-anchor="middle" font-size="9" fill="#1a1a1a">600</text><line x1="331.5" y1="242.6" x2="331.5" y2="237.6" stroke="#4d4d4d" stroke-width="1.3"/><text x="331.5" y="254.0" text-anchor="middle" font-size="9" fill="#1a1a1a">650</text><line x1="89.4" y1="242.6" x2="89.4" y2="240.0" stroke="#4d4d4d" stroke-width="1.3"/><line x1="143.2" y1="242.6" x2="143.2" y2="240.0" stroke="#4d4d4d" stroke-width="1.3"/><line x1="197.0" y1="242.6" x2="197.0" y2="240.0" stroke="#4d4d4d" stroke-width="1.3"/><line x1="250.8" y1="242.6" x2="250.8" y2="240.0" stroke="#4d4d4d" stroke-width="1.3"/><line x1="304.6" y1="242.6" x2="304.6" y2="240.0" stroke="#4d4d4d" stroke-width="1.3"/><text x="130.3" y="275.4" font-size="13" font-weight="bold" fill="#111" textLength="105.6" lengthAdjust="spacing">Wavelength (nm)</text><text transform="translate(11.3,168.4) rotate(-90)" x="0" y="0" font-size="13" font-weight="bold" fill="#111" textLength="92.6" lengthAdjust="spacing">Intensity (a. u.)</text><text x="47.6" y="17.2" font-size="8" font-weight="bold" fill="#151515" stroke="#151515" stroke-width="0.25" textLength="70.8" lengthAdjust="spacingAndGlyphs">(a) as-synthesized</text><text x="47.6" y="29.5" font-size="8" font-weight="bold" fill="#151515" stroke="#151515" stroke-width="0.25">(b)</text><text x="60.8" y="29.5" font-size="8" font-weight="bold" fill="#151515" stroke="#151515" stroke-width="0.25" textLength="13.4" lengthAdjust="spacing">200</text><circle cx="78.1" cy="23.00" r="0.95" fill="none" stroke="#333" stroke-width="0.85"/><text x="79.6" y="29.5" font-size="8" font-weight="bold" fill="#151515" stroke="#151515" stroke-width="0.25">C,</text><text x="90.2" y="29.5" font-size="8" font-weight="bold" fill="#151515" stroke="#151515" stroke-width="0.25">N</text><text x="96.2" y="32.10" font-size="4.8" font-weight="bold" fill="#222">2</text><text x="98.9" y="29.5" font-size="8" font-weight="bold" fill="#151515" stroke="#151515" stroke-width="0.25">,</text><text x="102.9" y="29.5" font-size="8" font-weight="bold" fill="#151515" stroke="#151515" stroke-width="0.25">1h</text><text x="47.6" y="42.3" font-size="8" font-weight="bold" fill="#151515" stroke="#151515" stroke-width="0.25">(c)</text><text x="60.8" y="42.3" font-size="8" font-weight="bold" fill="#151515" stroke="#151515" stroke-width="0.25" textLength="13.4" lengthAdjust="spacing">400</text><circle cx="78.1" cy="35.80" r="0.95" fill="none" stroke="#333" stroke-width="0.85"/><text x="79.6" y="42.3" font-size="8" font-weight="bold" fill="#151515" stroke="#151515" stroke-width="0.25">C,</text><text x="90.2" y="42.3" font-size="8" font-weight="bold" fill="#151515" stroke="#151515" stroke-width="0.25">N</text><text x="96.2" y="44.90" font-size="4.8" font-weight="bold" fill="#222">2</text><text x="98.9" y="42.3" font-size="8" font-weight="bold" fill="#151515" stroke="#151515" stroke-width="0.25">,</text><text x="102.9" y="42.3" font-size="8" font-weight="bold" fill="#151515" stroke="#151515" stroke-width="0.25">1h</text><text x="47.6" y="55.2" font-size="8" font-weight="bold" fill="#151515" stroke="#151515" stroke-width="0.25">(d)</text><text x="60.8" y="55.2" font-size="8" font-weight="bold" fill="#151515" stroke="#151515" stroke-width="0.25" textLength="13.4" lengthAdjust="spacing">500</text><circle cx="78.1" cy="48.70" r="0.95" fill="none" stroke="#333" stroke-width="0.85"/><text x="79.6" y="55.2" font-size="8" font-weight="bold" fill="#151515" stroke="#151515" stroke-width="0.25">C,</text><text x="90.2" y="55.2" font-size="8" font-weight="bold" fill="#151515" stroke="#151515" stroke-width="0.25">N</text><text x="96.2" y="57.80" font-size="4.8" font-weight="bold" fill="#222">2</text><text x="98.9" y="55.2" font-size="8" font-weight="bold" fill="#151515" stroke="#151515" stroke-width="0.25">,</text><text x="102.9" y="55.2" font-size="8" font-weight="bold" fill="#151515" stroke="#151515" stroke-width="0.25">1h</text><text x="47.6" y="68.0" font-size="8" font-weight="bold" fill="#151515" stroke="#151515" stroke-width="0.25">(6)</text><text x="60.8" y="68.0" font-size="8" font-weight="bold" fill="#151515" stroke="#151515" stroke-width="0.25" textLength="13.4" lengthAdjust="spacing">600</text><circle cx="78.1" cy="61.50" r="0.95" fill="none" stroke="#333" stroke-width="0.85"/><text x="79.6" y="68.0" font-size="8" font-weight="bold" fill="#151515" stroke="#151515" stroke-width="0.25">C,</text><text x="90.2" y="68.0" font-size="8" font-weight="bold" fill="#151515" stroke="#151515" stroke-width="0.25">N</text><text x="96.2" y="70.60" font-size="4.8" font-weight="bold" fill="#222">2</text><text x="98.9" y="68.0" font-size="8" font-weight="bold" fill="#151515" stroke="#151515" stroke-width="0.25">,</text><text x="102.9" y="68.0" font-size="8" font-weight="bold" fill="#151515" stroke="#151515" stroke-width="0.25">1h</text><text x="218.8" y="100.1" font-size="8" font-weight="bold" fill="#444">(e)</text><text x="274.6" y="97.8" font-size="8" font-weight="bold" fill="#444">(d)</text><text x="311.1" y="125.5" font-size="8" font-weight="bold" fill="#444">(c)</text><text x="291.1" y="161.9" font-size="8" font-weight="bold" fill="#444">(b)</text><text x="267.3" y="196.2" font-size="8" font-weight="bold" fill="#444">(a)</text></g></svg></body></html>
